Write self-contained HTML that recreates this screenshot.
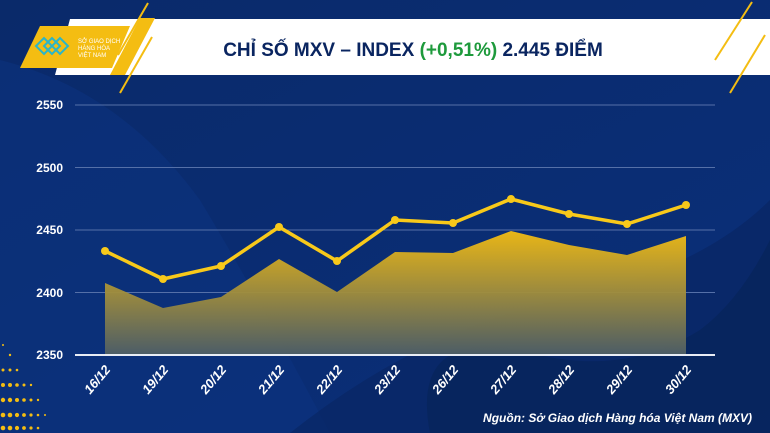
<!DOCTYPE html>
<html><head><meta charset="utf-8"><style>
html,body{margin:0;padding:0;width:770px;height:433px;overflow:hidden;background:#0b2a6e}
svg{display:block}
text{font-family:"Liberation Sans",sans-serif}
</style></head><body>
<svg width="770" height="433" viewBox="0 0 770 433">
<defs>
<linearGradient id="bg" x1="0" y1="0" x2="1" y2="1">
<stop offset="0" stop-color="#0a2a6a"/><stop offset="1" stop-color="#0a2f7a"/></linearGradient>
<linearGradient id="ar" x1="0" y1="0" x2="0" y2="1">
<stop offset="0" stop-color="#f4bd12"/><stop offset="1" stop-color="#4f5f66"/></linearGradient>
</defs>
<rect width="770" height="433" fill="url(#bg)"/>
<path d="M0 60 Q120 90 200 200 Q260 300 330 433 L0 433Z" fill="#0c3482" opacity=".5"/>
<path d="M290 433 Q420 330 560 300 Q700 270 770 200 L770 433Z" fill="#082560" opacity=".6"/>
<path d="M430 433 Q410 330 520 350 Q620 380 700 330 Q740 300 770 240 L770 433Z" fill="#07235a" opacity=".7"/>
<g fill="#f4bd12">
<circle cx="3" cy="345" r="1"/><circle cx="10" cy="355" r="1.2"/><circle cx="3" cy="370" r="1.5"/><circle cx="10" cy="370" r="1.5"/><circle cx="17" cy="370" r="1.3"/>
<circle cx="3" cy="385" r="2"/><circle cx="10" cy="385" r="2"/><circle cx="17" cy="385" r="1.8"/><circle cx="24" cy="385" r="1.5"/><circle cx="31" cy="385" r="1.2"/>
<circle cx="3" cy="400" r="2.2"/><circle cx="10" cy="400" r="2.2"/><circle cx="17" cy="400" r="2"/><circle cx="24" cy="400" r="1.8"/><circle cx="31" cy="400" r="1.5"/><circle cx="38" cy="400" r="1.2"/>
<circle cx="3" cy="415" r="2.3"/><circle cx="10" cy="415" r="2.3"/><circle cx="17" cy="415" r="2.1"/><circle cx="24" cy="415" r="1.9"/><circle cx="31" cy="415" r="1.6"/><circle cx="38" cy="415" r="1.3"/><circle cx="45" cy="415" r="1"/>
<circle cx="3" cy="428" r="2.3"/><circle cx="10" cy="428" r="2.3"/><circle cx="17" cy="428" r="2.1"/><circle cx="24" cy="428" r="1.9"/><circle cx="31" cy="428" r="1.6"/><circle cx="38" cy="428" r="1.3"/>
</g>
<!-- header -->
<polygon points="70,19 770,19 770,75 55,75" fill="#fff"/>
<polygon points="40,26 130,26 112,68 20,68" fill="#f4bd12"/>
<polygon points="140,18 155,18 125,75 110,75" fill="#f4bd12"/>
<line x1="148" y1="3" x2="118" y2="55" stroke="#f4bd12" stroke-width="2"/>
<line x1="152" y1="37" x2="120" y2="93" stroke="#f4bd12" stroke-width="2"/>
<line x1="752" y1="2" x2="715" y2="60" stroke="#f4bd12" stroke-width="2"/>
<line x1="765" y1="35" x2="730" y2="93" stroke="#f4bd12" stroke-width="2"/>
<path d="M36 46 l8-8 8 8 -8 8z M44 46 l8-8 8 8 -8 8z M52 46 l8-8 8 8 -8 8z" fill="none" stroke="#2bb5c8" stroke-width="2"/>
<text x="78" y="43" font-size="6" fill="#fff">SỞ GIAO DỊCH</text>
<text x="78" y="50" font-size="6" fill="#fff">HÀNG HÓA</text>
<text x="78" y="57" font-size="6" fill="#fff">VIỆT NAM</text>
<text x="413" y="56" font-size="19" font-weight="bold" fill="#0a2560" text-anchor="middle">CHỈ SỐ MXV – INDEX <tspan fill="#1e9a3c">(+0,51%)</tspan> 2.445 ĐIỂM</text>
<!-- grid -->
<g stroke="#5570a8" stroke-width="1">
<line x1="75" y1="105" x2="715" y2="105"/><line x1="75" y1="167.5" x2="715" y2="167.5"/><line x1="75" y1="230" x2="715" y2="230"/><line x1="75" y1="292.5" x2="715" y2="292.5"/>
</g>
<g font-size="12" font-weight="bold" fill="#fff" text-anchor="end">
<text x="63" y="109">2550</text><text x="63" y="172">2500</text><text x="63" y="234">2450</text><text x="63" y="297">2400</text><text x="63" y="359">2350</text>
</g>
<polygon points="105,283 163,308 221,297 279,259 337,292 395,252 453,253 511,231 569,245 627,255 686,236 686,355 105,355" fill="url(#ar)" opacity=".95"/>
<line x1="75" y1="355" x2="715" y2="355" stroke="#e8ecf5" stroke-width="2"/>
<polyline points="105,251 163,279 221,266 279,227 337,261 395,220 453,223 511,199 569,214 627,224 686,205" fill="none" stroke="#f8c91a" stroke-width="3.5"/>
<g fill="#f8c91a">
<circle cx="105" cy="251" r="4"/><circle cx="163" cy="279" r="4"/><circle cx="221" cy="266" r="4"/><circle cx="279" cy="227" r="4"/><circle cx="337" cy="261" r="4"/><circle cx="395" cy="220" r="4"/><circle cx="453" cy="223" r="4"/><circle cx="511" cy="199" r="4"/><circle cx="569" cy="214" r="4"/><circle cx="627" cy="224" r="4"/><circle cx="686" cy="205" r="4"/>
</g>
<g font-size="13" font-weight="bold" font-style="italic" fill="#fff" text-anchor="end">
<text transform="translate(111,370) rotate(-50)">16/12</text>
<text transform="translate(169,370) rotate(-50)">19/12</text>
<text transform="translate(227,370) rotate(-50)">20/12</text>
<text transform="translate(285,370) rotate(-50)">21/12</text>
<text transform="translate(343,370) rotate(-50)">22/12</text>
<text transform="translate(401,370) rotate(-50)">23/12</text>
<text transform="translate(459,370) rotate(-50)">26/12</text>
<text transform="translate(517,370) rotate(-50)">27/12</text>
<text transform="translate(575,370) rotate(-50)">28/12</text>
<text transform="translate(633,370) rotate(-50)">29/12</text>
<text transform="translate(692,370) rotate(-50)">30/12</text>
</g>
<text x="752" y="422" font-size="12" font-weight="bold" font-style="italic" fill="#fff" text-anchor="end">Nguồn: Sở Giao dịch Hàng hóa Việt Nam (MXV)</text>
</svg>
</body></html>
